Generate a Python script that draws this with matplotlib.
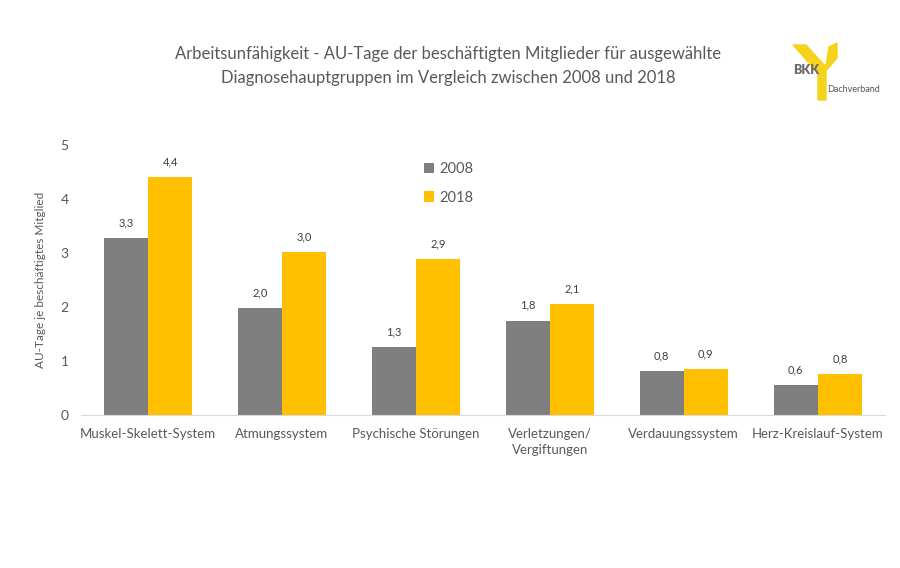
import matplotlib.pyplot as plt
import numpy as np
from matplotlib.patches import Polygon

plt.rcParams['font.family'] = ['Lato', 'DejaVu Sans']

kategorier = ["Muskel-Skelett-System", "Atmungssystem", "Psychische Störungen",
              "Verletzungen/\nVergiftungen", "Verdauungssystem", "Herz-Kreislauf-System"]
verdier_2008 = [3.28, 1.98, 1.26, 1.75, 0.82, 0.56]
verdier_2018 = [4.41, 3.02, 2.89, 2.06, 0.86, 0.76]

graa = "#7f7f7f"
gul = "#ffc000"
tekst = "#595959"

fig = plt.figure(figsize=(9, 5.68), dpi=100)
ax = fig.add_axes([0.09, 0.269, 0.893, 0.476])

bredde = 0.33
x = np.arange(len(kategorier))
s1 = ax.bar(x - bredde/2, verdier_2008, bredde, color=graa, label="2008")
s2 = ax.bar(x + bredde/2, verdier_2018, bredde, color=gul, label="2018")

for serie in (s1, s2):
    for b in serie:
        h = b.get_height()
        ax.annotate(f"{h:.1f}".replace(".", ","), (b.get_x() + b.get_width()/2, h),
                    xytext=(0, 7), textcoords="offset points", ha="center", va="bottom",
                    fontsize=8, color="#404040")

ax.set_xlim(-0.5, len(kategorier) - 0.5)
ax.set_ylim(0, 5)
ax.set_yticks(range(6))
ax.set_xticks(x)
ax.set_xticklabels(kategorier, fontsize=9.5, color=tekst, linespacing=1.4)
ax.tick_params(axis="y", labelsize=10, labelcolor=tekst, length=0, pad=9)
ax.tick_params(axis="x", length=0, pad=9)
for side in ["top", "right", "left"]:
    ax.spines[side].set_visible(False)
ax.spines["bottom"].set_color("#d9d9d9")

ax.set_ylabel("AU-Tage je beschäftigtes Mitglied", fontsize=8.5, color=tekst, labelpad=10)

ax.legend(loc="upper left", bbox_to_anchor=(0.41, 0.985), frameon=False, fontsize=10.5,
          labelcolor=tekst, handlelength=0.7, handleheight=0.7, handletextpad=0.4,
          labelspacing=1.0)

fig.text(0.498, 0.905, "Arbeitsunfähigkeit - AU-Tage der beschäftigten Mitglieder für ausgewählte",
         ha="center", va="center", fontsize=12, color=tekst)
fig.text(0.498, 0.862, "Diagnosehauptgruppen im Vergleich zwischen 2008 und 2018",
         ha="center", va="center", fontsize=12, color=tekst)

# BKK logo
def px(xp, yp):
    return (xp / 900, 1 - yp / 568)

logo_gul = "#f5d31a"
venstre = Polygon([px(793, 45), px(806, 45), px(826, 67), px(819, 74)],
                  closed=True, color=logo_gul, transform=fig.transFigure)
hoyre = Polygon([px(829, 47), px(837, 43), px(837, 58), px(825, 72)],
                closed=True, color=logo_gul, transform=fig.transFigure)
stamme = Polygon([px(818, 68), px(826, 65), px(826, 100), px(818, 100)],
                 closed=True, color=logo_gul, transform=fig.transFigure)
for p in (venstre, hoyre, stamme):
    fig.patches.append(p)
fig.text(*px(793, 70), "BKK", fontsize=9, fontweight="heavy", color="#6b6b6b", va="center")
fig.text(*px(827, 89), "Dachverband", fontsize=6.5, color="#555555", va="center")

fig.savefig("out.png", dpi=100)
